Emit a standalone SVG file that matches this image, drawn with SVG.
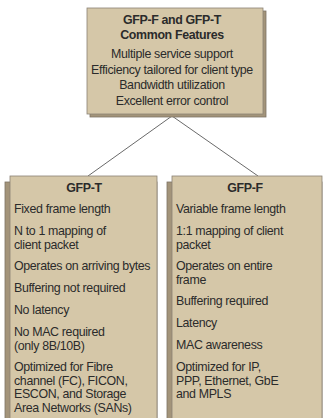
<svg xmlns="http://www.w3.org/2000/svg" width="324" height="418" viewBox="0 0 324 418">
<style>
.shadow{fill:#a3947a;stroke:#7d7364;stroke-width:0.8}
.box{fill:#d5c7a8;stroke:#8a8274;stroke-width:0.8}
.t{font-family:"Liberation Sans",Arial,sans-serif;font-size:12.4px;letter-spacing:-0.35px;fill:#2b2b2b}
.b{font-weight:bold}
.c{text-anchor:middle}
.conn{stroke:#6a6a6a;stroke-width:1;fill:none}
</style>
<rect width="324" height="418" fill="#ffffff"/>
<g id="connectors">
<line class="conn" x1="172" y1="116" x2="88" y2="176"/>
<line class="conn" x1="172" y1="116" x2="258" y2="176"/>
</g>
<g id="common">
<rect class="shadow" x="90" y="11" width="176" height="106"/>
<rect class="box" x="87" y="8" width="176" height="106"/>
<text class="t b c" x="172" y="24">GFP-F and GFP-T</text>
<text class="t b c" x="172" y="39">Common Features</text>
<text class="t c" x="172" y="58">Multiple service support</text>
<text class="t c" x="172" y="74">Efficiency tailored for client type</text>
<text class="t c" x="172" y="89">Bandwidth utilization</text>
<text class="t c" x="172" y="105">Excellent error control</text>
</g>
<g id="gfpt">
<rect class="shadow" x="5" y="182" width="152" height="240"/>
<rect class="box" x="10" y="176" width="147" height="246"/>
<text class="t b c" x="84" y="192">GFP-T</text>
<text class="t" x="14" y="213">Fixed frame length</text>
<text class="t" x="14" y="235">N to 1 mapping of</text>
<text class="t" x="14" y="248.5">client packet</text>
<text class="t" x="14" y="270">Operates on arriving bytes</text>
<text class="t" x="14" y="292">Buffering not required</text>
<text class="t" x="14" y="314">No latency</text>
<text class="t" x="14" y="336">No MAC required</text>
<text class="t" x="14" y="349.5">(only 8B/10B)</text>
<text class="t" x="14" y="371">Optimized for Fibre</text>
<text class="t" x="14" y="384.5">channel (FC), FICON,</text>
<text class="t" x="14" y="398">ESCON, and Storage</text>
<text class="t" x="14" y="411.5">Area Networks (SANs)</text>
</g>
<g id="gfpf">
<rect class="shadow" x="167" y="182" width="155" height="240"/>
<rect class="box" x="172" y="176" width="150" height="246"/>
<text class="t b c" x="245" y="192">GFP-F</text>
<text class="t" x="176" y="213">Variable frame length</text>
<text class="t" x="176" y="235">1:1 mapping of client</text>
<text class="t" x="176" y="248.5">packet</text>
<text class="t" x="176" y="270">Operates on entire</text>
<text class="t" x="176" y="283.5">frame</text>
<text class="t" x="176" y="305">Buffering required</text>
<text class="t" x="176" y="327">Latency</text>
<text class="t" x="176" y="349">MAC awareness</text>
<text class="t" x="176" y="371">Optimized for IP,</text>
<text class="t" x="176" y="384.5">PPP, Ethernet, GbE</text>
<text class="t" x="176" y="398">and MPLS</text>
</g>
</svg>
